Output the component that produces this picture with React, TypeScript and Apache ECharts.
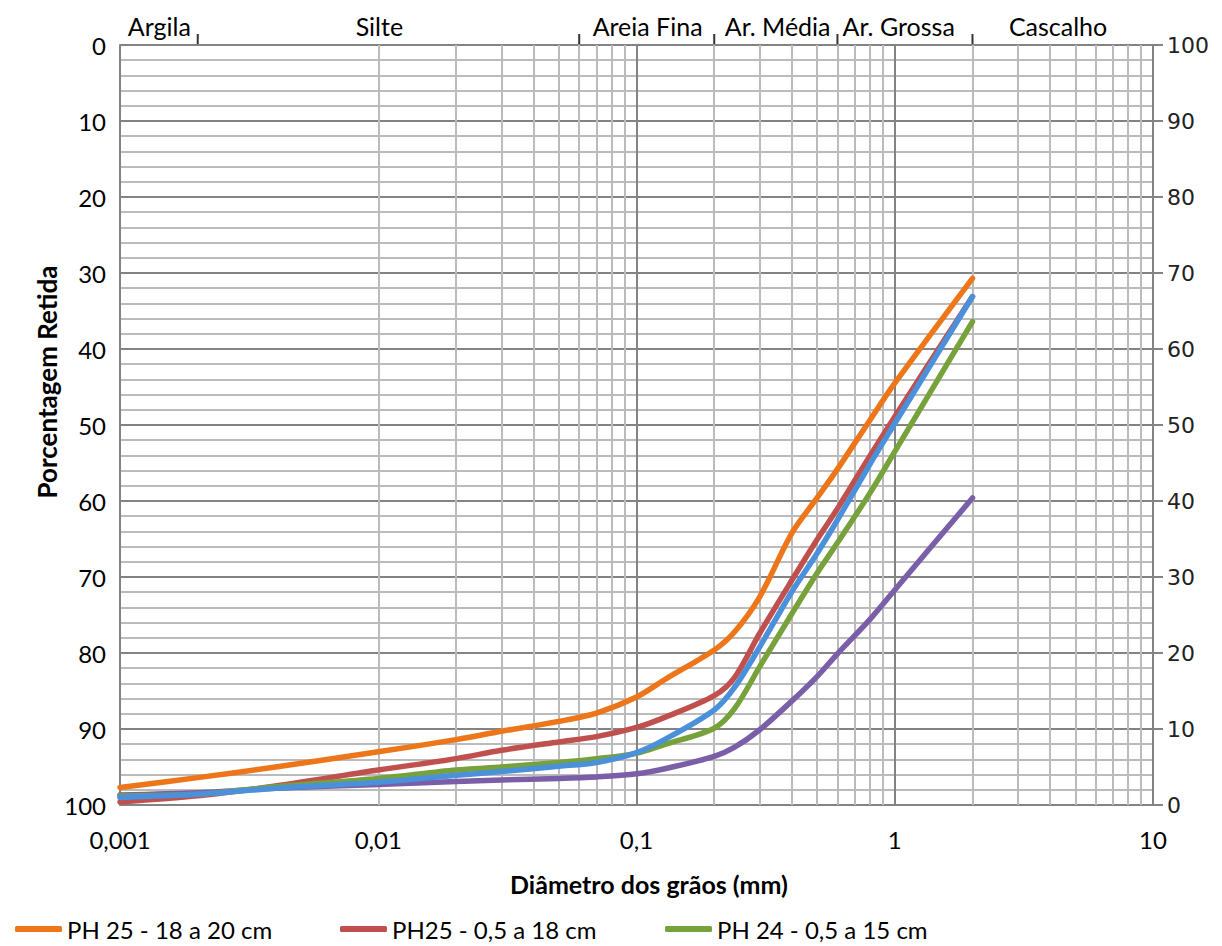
import React, { useEffect, useRef } from "react";
import * as echarts from "echarts";

// Diameters (mm) at which curve values were read
const diameters = [0.001, 0.002, 0.004, 0.01, 0.02, 0.03, 0.05, 0.07, 0.1, 0.13, 0.2, 0.24, 0.3, 0.4, 0.5, 0.6, 0.8, 1, 2];

// Percent retained for each sample
const ph25_18a20 = [97.7, 96.4, 95.0, 93.0, 91.4, 90.3, 89.0, 87.9, 85.8, 83.4, 79.6, 77.2, 72.6, 64.2, 59.6, 55.8, 49.4, 44.5, 30.7];
const ph25_05a18 = [99.6, 98.8, 97.5, 95.4, 93.9, 92.8, 91.7, 91.0, 89.8, 88.4, 85.6, 83.2, 77.4, 70.4, 65.1, 61.0, 54.1, 48.9, 33.1];
const ph24_05a15 = [98.8, 98.6, 97.6, 96.5, 95.4, 95.0, 94.4, 93.9, 93.2, 92.0, 89.9, 87.3, 81.8, 74.8, 69.5, 65.5, 59.0, 53.5, 36.4];
const serie4 = [99.0, 98.6, 97.8, 97.0, 96.1, 95.6, 94.9, 94.4, 93.1, 91.3, 87.5, 84.5, 79.2, 71.9, 66.9, 62.5, 55.2, 49.8, 33.1];
const serie5 = [98.7, 98.4, 97.8, 97.3, 96.9, 96.7, 96.5, 96.3, 95.9, 95.2, 93.6, 92.4, 90.1, 86.3, 83.1, 80.1, 75.6, 71.7, 59.6];

const seriesNames = ["PH 25 - 18 a 20 cm", "PH25 - 0,5 a 18 cm", "PH 24 - 0,5 a 15 cm", "Série 4", "Série 5"];
const seriesValues = [ph25_18a20, ph25_05a18, ph24_05a15, serie4, serie5];
const seriesColors = ["#EC7619", "#C0504D", "#77A13B", "#4A90DA", "#7B5EA8"];

// Soil classification (top axis)
const classBoundaries = [0.002, 0.06, 0.2, 0.6, 2];
const classNames = ["Argila", "Silte", "Areia Fina", "Ar. Média", "Ar. Grossa", "Cascalho"];
const classLabelAt = [0.00142, 0.0101, 0.1104, 0.352, 1.036, 4.29];

const minorDiameters: number[] = [];
for (let e = -3; e <= 0; e++) {
  for (let k = 2; k <= 9; k++) minorDiameters.push(Number((k * Math.pow(10, e)).toPrecision(3)));
}

const LABEL_FONT = "Lato, 'Noto Sans', sans-serif";
const MAJOR = "#838383";
const MINOR = "#BBBBBB";

export default function App() {
  const ref = useRef<HTMLDivElement>(null);
  useEffect(() => {
    if (!ref.current) return;
    const chart = echarts.init(ref.current, undefined, { renderer: "svg" });
    const fmtDiam = (v: number) => String(Number(v.toPrecision(6))).replace(".", ",");
    const option: any = {
      animation: false,
      backgroundColor: "#ffffff",
      color: seriesColors,
      grid: { left: 120, right: 69, top: 45, bottom: 141, containLabel: false },
      legend: [0, 1, 2].map((i) => ({
        data: [seriesNames[i]],
        left: [15, 340, 665][i],
        top: 917,
        icon: "roundRect",
        itemWidth: 47,
        itemHeight: 6,
        padding: 0,
        selectedMode: false,
        textStyle: { fontFamily: LABEL_FONT, fontSize: 24, color: "#000" },
      })),
      xAxis: [
        {
          type: "log",
          logBase: 10,
          min: 0.001,
          max: 10,
          position: "bottom",
          axisLine: { show: true, lineStyle: { color: MAJOR, width: 2 } },
          axisTick: { show: false },
          axisLabel: { formatter: fmtDiam, fontFamily: LABEL_FONT, fontSize: 24, color: "#000", margin: 22 },
          splitLine: { show: true, lineStyle: { color: MAJOR, width: 2 } },
          z: 3,
        },
        {
          type: "value",
          min: -3,
          max: 1,
          position: "top",
          axisLine: { show: true, lineStyle: { color: MAJOR, width: 2 } },
          axisTick: { show: false },
          axisLabel: {
            show: true,
            customValues: classLabelAt.map((b) => Math.log10(b)),
            formatter: (v: number) => {
              let best = 0;
              let bd = Infinity;
              classLabelAt.forEach((c, i) => {
                const d = Math.abs(Math.log10(c) - v);
                if (d < bd) { bd = d; best = i; }
              });
              return classNames[best];
            },
            fontFamily: LABEL_FONT,
            fontSize: 25,
            color: "#000",
            margin: 7,
          },
          splitLine: { show: false },
        },
      ],
      yAxis: [
        {
          type: "value",
          inverse: true,
          min: 0,
          max: 100,
          interval: 10,
          position: "left",
          axisLine: { show: true, lineStyle: { color: MAJOR, width: 2 } },
          axisTick: { show: true, inside: false, length: 10, lineStyle: { color: MAJOR, width: 2 } },
          axisLabel: { fontFamily: LABEL_FONT, fontSize: 24, color: "#000", margin: 14 },
          splitLine: { show: true, lineStyle: { color: MAJOR, width: 2 } },
          minorTick: { show: false, splitNumber: 5 },
          minorSplitLine: { show: true, lineStyle: { color: MINOR, width: 2 } },
        },
        {
          type: "value",
          min: 0,
          max: 100,
          interval: 10,
          position: "right",
          axisLine: { show: true, lineStyle: { color: MAJOR, width: 2 } },
          axisTick: { show: true, inside: false, length: 10, lineStyle: { color: MAJOR, width: 2 } },
          axisLabel: { fontFamily: "'DejaVu Sans', sans-serif", fontSize: 22, color: "#222", margin: 14 },
          splitLine: { show: false },
        },
      ],
      series: [
        {
          type: "line",
          name: "minor-grid",
          xAxisIndex: 0,
          yAxisIndex: 0,
          data: [],
          silent: true,
          z: 1,
          markLine: {
            silent: true,
            symbol: ["none", "none"],
            label: { show: false },
            lineStyle: { color: MINOR, width: 2, type: "solid" },
            emphasis: { disabled: true },
            data: minorDiameters.map((v) => ({ xAxis: v })),
          },
        },
        ...seriesValues.map((vals, i) => ({
          type: "line",
          name: seriesNames[i],
          xAxisIndex: 0,
          yAxisIndex: 0,
          data: diameters.map((d, j) => [d, vals[j]]),
          showSymbol: false,
          symbol: "none",
          smooth: 0.3,
          lineStyle: { width: 5.5, color: seriesColors[i], cap: "round", join: "round" },
          itemStyle: { color: seriesColors[i] },
          z: 10 + (i === 4 ? 0 : i === 3 ? 4 : i),
        })),
      ],
    };
    chart.setOption(option);

    // Class boundary ticks above the top axis and axis titles
    const topY = chart.convertToPixel({ yAxisIndex: 0 }, 0) as number;
    const boundaryTicks = classBoundaries.map((b) => {
      const x = chart.convertToPixel({ xAxisIndex: 0 }, b) as number;
      return {
        type: "line",
        shape: { x1: x, y1: topY, x2: x, y2: topY - 11 },
        style: { stroke: "#333", lineWidth: 2 },
        silent: true,
      };
    });
    chart.setOption({
      graphic: [
        ...boundaryTicks,
        {
          type: "text",
          x: 47,
          y: 382,
          rotation: Math.PI / 2,
          style: {
            text: "Porcentagem Retida",
            fontFamily: LABEL_FONT,
            fontWeight: "bold",
            fontSize: 26,
            fill: "#000",
            align: "center",
            verticalAlign: "middle",
          },
        },
        {
          type: "text",
          x: 649,
          y: 884,
          style: {
            text: "Diâmetro dos grãos (mm)",
            fontFamily: LABEL_FONT,
            fontWeight: "bold",
            fontSize: 25,
            fill: "#000",
            align: "center",
            verticalAlign: "middle",
          },
        },
      ],
    });
    return () => chart.dispose();
  }, []);
  return (
    <div
      ref={ref}
      style={{ position: "absolute", left: 0, top: 0, width: 1222, height: 946, background: "#fff" }}
    />
  );
}
